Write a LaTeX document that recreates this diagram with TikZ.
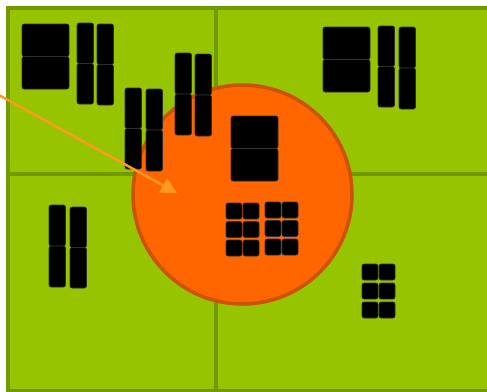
\documentclass[tikz,border=0pt]{standalone}
\usepackage{tikz}
\usetikzlibrary{arrows.meta,positioning}
\definecolor{paneGreen}{HTML}{96C400}
\definecolor{paneEdge}{HTML}{739900}
\definecolor{zoneFill}{HTML}{FF6600}
\definecolor{zoneEdge}{HTML}{CC5200}
\definecolor{pointerOrange}{HTML}{FF9A1F}

\begin{document}
\begin{tikzpicture}[
  x=0.02cm, y=-0.02cm,
  pane/.style={draw=paneEdge, fill=paneGreen, line width=2.2pt},
  zone/.style={circle, draw=zoneEdge, fill=zoneFill, line width=2pt, minimum size=219*0.02cm, inner sep=0pt},
  blk/.style={fill=black, draw=black!82, line width=0.35pt, rounded corners=1.2pt},
  pointer/.style={-{Triangle[length=9pt,width=9pt]}, draw=pointerOrange, line width=1.4pt},
]
\useasboundingbox (0,0) rectangle (487,392);
\clip (0,0) rectangle (487,392);
\fill[white] (0,0) rectangle (487,392);

% four green panes
\draw[pane] (8,8) rectangle (216,174);
\draw[pane] (216,8) rectangle (495,174);
\draw[pane] (8,174) rectangle (216,391);
\draw[pane] (216,174) rectangle (495,391);

% orange zone
\node[zone] (zone) at (242.5,194.5) {};

% wide stacked boxes
\foreach \x/\y in {22/24, 323/27, 231/116}
  {
    \draw[blk] (\x,\y) rectangle ++(47,32.5);
    \draw[blk] (\x,\y+32.5) rectangle ++(47,32.5);
  }

% tall split bars: x / top / bottom
\foreach \x/\t/\b in {77/23/104, 97/24/105, 125/88/169, 146/89/171,
                      175/53/135, 195/54/136, 378/26/107, 399/27/109,
                      49/205/287, 70/207/288}
  {
    \pgfmathsetmacro{\m}{(\t+\b)/2}
    \draw[blk] (\x,\t) rectangle (\x+16.5,\m);
    \draw[blk] (\x,\m) rectangle (\x+16.5,\b);
  }

% small square grids
\foreach \gx/\gy/\rp in {226/203/18.5, 265/202/18.5, 362/264/19}
  \foreach \c in {0,1}
    \foreach \r in {0,1,2}
      \draw[blk] (\gx+\c*17,\gy+\r*\rp) rectangle ++(16,16);

% pointer into the zone
\coordinate (src) at (-3,94);
\coordinate (tip) at (177,193);
\draw[pointer] (src) -- (tip);
\end{tikzpicture}
\end{document}
